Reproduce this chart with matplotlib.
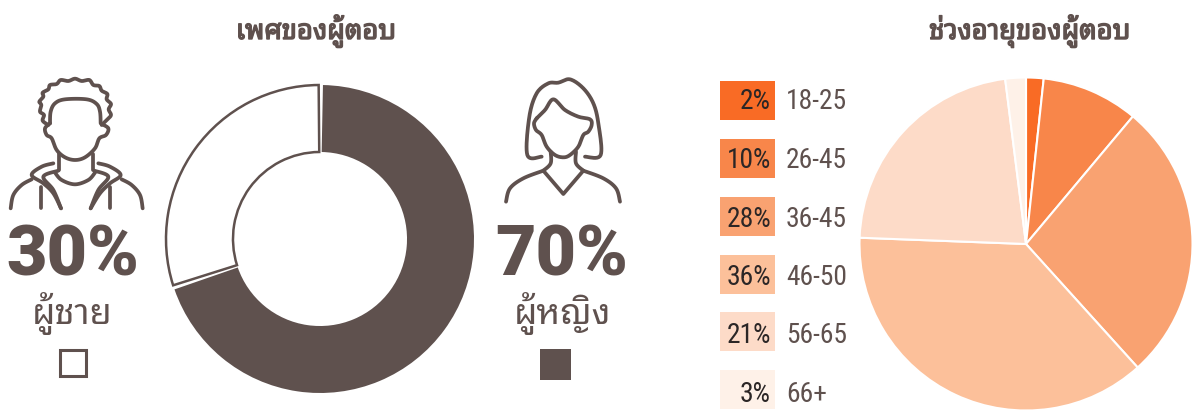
import numpy as np
import matplotlib
matplotlib.use("Agg")
import matplotlib.pyplot as plt
import matplotlib.patheffects as pe
from matplotlib.patches import Rectangle

W, H = 1197, 412
BROWN = "#5F514E"
THAI_FONT = "Noto Sans Thai Looped"

# -----------------------
# Datos
# -----------------------
gender_names = ["ผู้หญิง", "ผู้ชาย"]
gender_values = [70, 30]

age_groups = ["18-25", "26-45", "36-45", "46-50", "56-65", "66+"]
age_labels = ["2%", "10%", "28%", "36%", "21%", "3%"]
# slice sizes as drawn (they differ a little from the printed labels)
age_slices = [1.7, 9.4, 27.2, 37.3, 22.4, 2.0]
age_colors = ["#F96B25", "#F8864A", "#F9A271", "#FCC09A", "#FDDBC8", "#FEF1E8"]

title_left = "เพศของผู้ตอบ"
title_right = "ช่วงอายุของผู้ตอบ"

fig = plt.figure(figsize=(W / 100, H / 100), dpi=100)
ax = fig.add_axes([0, 0, 1, 1])
ax.set_xlim(0, W)
ax.set_ylim(H, 0)
ax.axis("off")


def px(size):
    return size * 0.72


def pie_axes(cx, cy, r):
    pad = r * 1.05
    return fig.add_axes([(cx - pad) / W, 1 - (cy + pad) / H, 2 * pad / W, 2 * pad / H])


def smooth(points, n=12):
    # Catmull-Rom through the given points
    p = np.array(points, dtype=float)
    p = np.vstack([p[0], p, p[-1]])
    out = []
    for i in range(1, len(p) - 2):
        t = np.linspace(0, 1, n)[:, None]
        a = 2 * p[i]
        b = p[i + 1] - p[i - 1]
        c = 2 * p[i - 1] - 5 * p[i] + 4 * p[i + 1] - p[i + 2]
        d = -p[i - 1] + 3 * p[i] - 3 * p[i + 1] + p[i + 2]
        out.append(0.5 * (a + b * t + c * t ** 2 + d * t ** 3))
    return np.vstack(out)


def stroke(points, ox=0, oy=0, curve=True):
    xy = smooth(points) if curve else np.array(points, dtype=float)
    ax.plot(ox + xy[:, 0] / 3, oy + xy[:, 1] / 3, color=BROWN, lw=2.7,
            solid_capstyle="round", solid_joinstyle="round")


# -----------------------
# Donut
# -----------------------
ax1 = pie_axes(320, 239, 154)
wedges, _ = ax1.pie(gender_values, startangle=90, counterclock=False, radius=1,
                    wedgeprops=dict(width=0.435))
wedges[0].set(facecolor=BROWN, edgecolor="none")
wedges[1].set(facecolor="white", edgecolor=BROWN, linewidth=1.8)
# small gap between the two rings
wedges[0].set_theta1(wedges[0].theta1 + 1.1)
wedges[0].set_theta2(wedges[0].theta2 - 1.1)
wedges[1].set_theta1(wedges[1].theta1 + 0.5)
wedges[1].set_theta2(wedges[1].theta2 - 0.5)
ax1.set_xlim(-1.05, 1.05)
ax1.set_ylim(-1.05, 1.05)

# -----------------------
# Pie edades
# -----------------------
ax2 = pie_axes(1026, 244, 166.5)
ax2.pie(age_slices, colors=age_colors, startangle=90, counterclock=False, radius=1,
        wedgeprops=dict(edgecolor="white", linewidth=1.5))
ax2.set_xlim(-1.05, 1.05)
ax2.set_ylim(-1.05, 1.05)

# leyenda
box_tops = [81, 139, 197, 255, 312, 370]
text_base = [109, 168, 227, 285, 343, 402]
for top, base, lab, grp, col in zip(box_tops, text_base, age_labels, age_groups, age_colors):
    ax.add_patch(Rectangle((720, top), 55, 39, facecolor=col, edgecolor="none"))
    ax.text(771, base, lab, ha="right", va="baseline", color="#2B2626",
            fontsize=px(27.5), family="Roboto Condensed")
    ax.text(786, base, grp, ha="left", va="baseline", color=BROWN,
            fontsize=px(27.5), family="Roboto Condensed")

# -----------------------
# Textos
# -----------------------
bold = [pe.withStroke(linewidth=1.0, foreground=BROWN)]
ax.text(316, 39, title_left, ha="center", va="baseline", color=BROWN, fontsize=px(27.4),
        family=THAI_FONT, path_effects=bold)
ax.text(1030, 39, title_right, ha="center", va="baseline", color=BROWN, fontsize=px(27.4),
        family=THAI_FONT, path_effects=bold)

ax.text(72.5, 275, f"{gender_values[1]}%", ha="center", va="baseline", color=BROWN,
        fontsize=px(70), fontweight="black", family="Roboto")
ax.text(562, 275, f"{gender_values[0]}%", ha="center", va="baseline", color=BROWN,
        fontsize=px(70), fontweight="black", family="Roboto")
ax.text(72, 324, gender_names[1], ha="center", va="baseline", color=BROWN,
        fontsize=px(36), family=THAI_FONT)
ax.text(562, 324, gender_names[0], ha="center", va="baseline", color=BROWN,
        fontsize=px(36), family=THAI_FONT)

ax.add_patch(Rectangle((59.5, 349.5), 26, 26, facecolor="white", edgecolor=BROWN, linewidth=2.2))
ax.add_patch(Rectangle((540, 349), 31, 31, facecolor=BROWN, edgecolor="none"))

# -----------------------
# Iconos
# -----------------------
# hombre: pelo rizado
stroke([(145, 375), (128, 362), (132, 345), (120, 335), (124, 315), (118, 305), (130, 290),
        (128, 278), (145, 268), (150, 255), (170, 252), (182, 240), (205, 243), (225, 236),
        (245, 243), (268, 240), (280, 255), (298, 258), (305, 272), (322, 282), (320, 298),
        (333, 312), (326, 328), (333, 345), (322, 358), (305, 375)])
stroke([(150, 370), (152, 335), (165, 310), (195, 298), (260, 298), (290, 312), (300, 335), (302, 370)])
stroke([(150, 370), (135, 385), (140, 405), (155, 415), (170, 450), (195, 472), (225, 480),
        (255, 472), (285, 445), (298, 415), (318, 405), (325, 385), (305, 372)])
stroke([(178, 462), (178, 510)], curve=False)
stroke([(278, 462), (278, 510)], curve=False)
stroke([(165, 518), (185, 540), (225, 553), (265, 540), (285, 518)])
stroke([(160, 490), (125, 500), (95, 525), (130, 550), (160, 580), (183, 625)])
stroke([(175, 512), (130, 530), (160, 570), (183, 625)])
stroke([(295, 490), (330, 500), (362, 525), (330, 550), (300, 580), (272, 625)])
stroke([(283, 512), (325, 530), (295, 570), (272, 625)])
stroke([(32, 625), (40, 585), (65, 555), (95, 538)])
stroke([(428, 625), (420, 585), (395, 555), (365, 538)])
stroke([(122, 560), (122, 625)], curve=False)
stroke([(330, 560), (330, 625)], curve=False)

# mujer
ox, oy = 490, 60
stroke([(155, 290), (112, 285), (118, 170), (140, 100), (175, 70), (205, 68), (240, 58),
        (280, 85), (310, 130), (325, 190), (332, 285), (285, 290)], ox, oy)
stroke([(140, 175), (165, 150), (190, 118), (225, 150), (265, 170), (300, 178), (305, 195),
        (295, 215), (280, 225), (265, 260), (240, 285), (220, 292), (195, 285), (170, 260),
        (155, 225), (138, 210), (132, 190), (140, 175)], ox, oy)
stroke([(182, 275), (182, 310), (160, 332)], ox, oy)
stroke([(258, 275), (258, 310), (280, 332)], ox, oy)
stroke([(160, 332), (220, 402), (280, 332)], ox, oy, curve=False)
stroke([(48, 425), (60, 385), (100, 355), (160, 332)], ox, oy)
stroke([(390, 425), (378, 385), (340, 355), (280, 332)], ox, oy)

fig.savefig("out.png", dpi=100)
